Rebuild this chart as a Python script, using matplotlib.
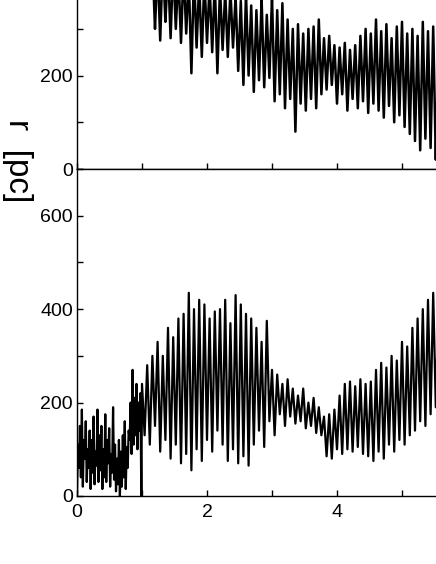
import numpy as np
import matplotlib.pyplot as plt
from matplotlib.ticker import FuncFormatter

plt.rcParams['font.family'] = ['Liberation Sans', 'DejaVu Sans']

# upper panel: peaks / troughs of the oscillation
top_peaks = [480, 470, 460, 450, 440, 450, 430, 440, 420, 430,
             410, 420, 400, 410, 395, 400, 390, 380, 385, 370,
             360, 375, 350, 340, 365, 330, 370, 340, 355, 320,
             300, 310, 290, 300, 305, 320, 280, 285, 265, 260,
             270, 255, 265, 285, 300, 290, 320, 295, 310, 280,
             305, 315, 290, 300, 285, 315, 295, 305, 280]
top_troughs = [400, 380, 365, 300, 275, 315, 280, 300, 270, 290,
               205, 260, 240, 270, 250, 205, 255, 240, 260, 210,
               180, 200, 165, 190, 175, 195, 145, 160, 130, 150,
               80, 140, 125, 150, 130, 160, 170, 180, 140, 160,
               125, 150, 130, 145, 120, 140, 125, 110, 135, 100,
               115, 90, 75, 60, 40, 65, 45, 20, 50]

# lower panel: noisy start, then peaks / troughs
bot_noise = [0, 110, 60, 150, 40, 185, 20, 120, 80, 160,
             30, 100, 60, 140, 15, 120, 50, 170, 25, 95,
             65, 185, 30, 130, 55, 150, 15, 100, 40, 175,
             30, 120, 70, 145, 20, 90, 50, 190, 35, 110,
             10, 80, 25, 120, 0, 95, 20, 130, 40, 160,
             15, 105, 60, 140, 120, 200, 90, 270, 110, 210,
             130, 240, 100, 200, 140, 220, 0]
bot_peaks = [240, 280, 300, 330, 300, 360, 340, 380, 390, 435,
             400, 420, 410, 380, 395, 400, 420, 370, 430, 410,
             390, 380, 360, 330, 375, 270, 260, 240, 250, 230,
             215, 230, 200, 210, 190, 170, 175, 185, 215, 240,
             245, 235, 250, 240, 245, 270, 285, 275, 300, 290,
             330, 320, 360, 380, 400, 420, 435, 410]
bot_troughs = [130, 110, 150, 95, 120, 80, 110, 70, 90, 55,
               100, 75, 120, 95, 140, 110, 75, 100, 70, 85,
               65, 110, 140, 105, 160, 130, 175, 150, 170, 155,
               160, 145, 150, 135, 130, 85, 80, 100, 90, 100,
               95, 105, 90, 85, 75, 95, 80, 110, 95, 120,
               110, 130, 140, 160, 150, 175, 190, 180]


def zigzag(start, peaks, troughs, step=0.04):
    vals = np.empty(len(peaks) + len(troughs))
    vals[0::2] = peaks
    vals[1::2] = troughs
    t = start + step * np.arange(len(vals))
    return t, vals


t_top, r_top = zigzag(0.92, top_peaks, top_troughs)
t_osc, r_osc = zigzag(1.00, bot_peaks, bot_troughs)
t_noise = 0.015 * np.arange(len(bot_noise))
t_bot = np.concatenate([t_noise, t_osc])
r_bot = np.concatenate([bot_noise, r_osc])

fig = plt.figure(figsize=(4.36, 5.64), dpi=100)
ax_top = fig.add_axes([77 / 436, 1 - 169 / 564, 390 / 436, 327 / 564])
ax_bot = fig.add_axes([77 / 436, 1 - 496 / 564, 390 / 436, 327 / 564])

ax_top.plot(t_top, r_top, color='black', lw=1.8)
ax_bot.plot(t_bot, r_bot, color='black', lw=1.6)

for ax in (ax_top, ax_bot):
    ax.set_xlim(0, 6)
    ax.set_ylim(0, 700)
    ax.set_xticks(range(0, 7))
    ax.set_yticks(range(0, 701, 100))
    ax.tick_params(direction='in', length=4, width=1, labelsize=14, pad=3)
    for s in ax.spines.values():
        s.set_linewidth(1)

ax_top.set_xticklabels([])
ax_top.set_yticklabels(["0", "", "200", "", "", "", "", ""])
ax_bot.set_xticklabels(["0", "", "2", "", "4", "", ""])
ax_bot.tick_params(axis='x', pad=6)
ax_bot.set_yticklabels(["0", "", "200", "", "400", "", "600", ""])

fig.text(0.040, 1 - 161 / 564, 'r  [pc]', rotation=270, fontsize=24,
         ha='center', va='center')

fig.savefig('out.png', dpi=100)
